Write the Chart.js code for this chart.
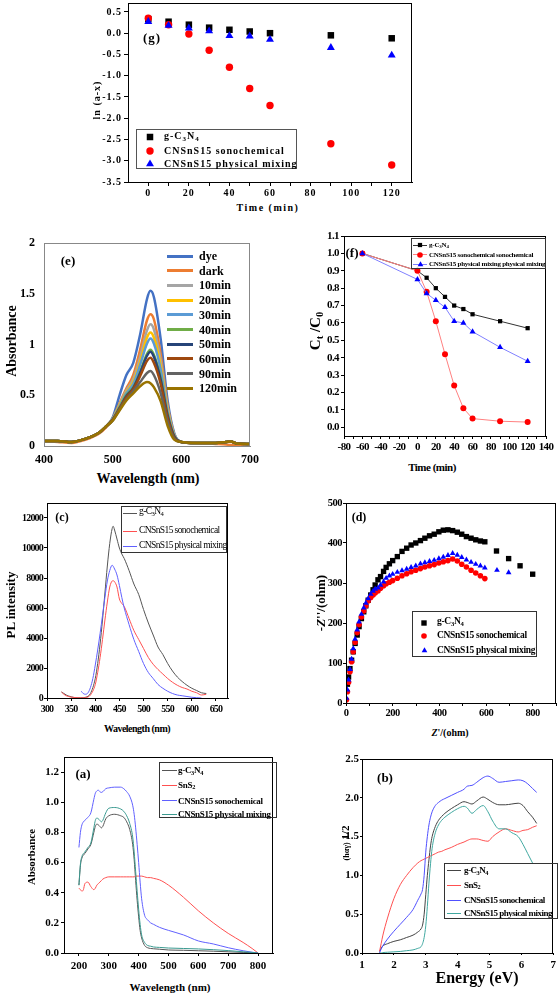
<!DOCTYPE html>
<html><head><meta charset="utf-8">
<script src="https://cdn.jsdelivr.net/npm/chart.js@4.4.1/dist/chart.umd.min.js"></script>
<style>
html,body{margin:0;padding:0;background:#fff;}
#page{position:relative;width:560px;height:996px;overflow:hidden;background:#fff;font-family:"Liberation Serif","Times New Roman",serif;color:#000;}
canvas{position:absolute;}
.t{position:absolute;white-space:nowrap;line-height:1;transform:translate(-50%,-50%);font-weight:bold;}
.r{transform:translate(-50%,-50%) rotate(-90deg);}
.lg{position:absolute;border:1px solid #333;box-sizing:border-box;}
.li{position:absolute;white-space:nowrap;line-height:1;transform:translateY(-50%);}
sub{font-size:70%;vertical-align:baseline;position:relative;top:0.3em;}
</style></head><body><div id="page"></div>
<script>
// ---------- (g) ln(a-x) vs time ----------
const G_TIME = [0,10,20,30,40,50,60,90,120];
const G_GCN  = [0.33,0.27,0.20,0.13,0.08,0.04,0.00,-0.05,-0.12];
const G_SONO = [0.35,0.20,-0.02,-0.40,-0.80,-1.30,-1.70,-2.60,-3.10];
const G_PHYS = [0.27,0.18,0.12,0.05,-0.06,-0.07,-0.15,-0.34,-0.52];
const G_XTICKS = [0,20,40,60,80,100,120];
const G_XMINOR = [10,30,50,70,90,110];
const G_YTICKS = [-3.5,-3.0,-2.5,-2.0,-1.5,-1.0,-0.5,0.0,0.5];

// ---------- (e) absorbance spectra ----------
const E_WL = [400,420,440,460,480,490,500,510,520,530,540,550,555,560,570,580,590,600,620,650,665,672,680,700];
const E_DYE  = [0.05,0.05,0.04,0.07,0.13,0.19,0.28,0.50,0.70,0.82,1.10,1.45,1.53,1.47,1.05,0.45,0.12,0.04,0.03,0.03,0.04,0.045,0.025,0.02];
const E_DARK = [0.05,0.04,0.03,0.06,0.12,0.18,0.27,0.42,0.57,0.70,0.95,1.24,1.30,1.25,0.90,0.40,0.11,0.04,0.03,0.02,0.015,0.01,0.01,0.02];
const E_10   = [0.05,0.05,0.04,0.07,0.13,0.19,0.27,0.41,0.55,0.66,0.88,1.14,1.20,1.15,0.84,0.38,0.11,0.04,0.03,0.03,0.04,0.045,0.025,0.02];
const E_20   = [0.05,0.05,0.04,0.07,0.13,0.19,0.27,0.40,0.53,0.63,0.83,1.07,1.12,1.07,0.79,0.36,0.10,0.04,0.03,0.03,0.04,0.045,0.025,0.02];
const E_30   = [0.05,0.05,0.04,0.07,0.13,0.19,0.27,0.39,0.52,0.61,0.80,1.01,1.06,1.01,0.75,0.34,0.10,0.04,0.03,0.03,0.04,0.045,0.025,0.02];
const E_40   = [0.05,0.05,0.04,0.07,0.13,0.19,0.26,0.38,0.50,0.58,0.73,0.91,0.95,0.90,0.67,0.31,0.09,0.04,0.03,0.03,0.04,0.045,0.025,0.02];
const E_50   = [0.05,0.05,0.04,0.07,0.13,0.19,0.26,0.37,0.49,0.57,0.72,0.89,0.93,0.88,0.65,0.30,0.09,0.04,0.03,0.03,0.04,0.045,0.025,0.02];
const E_60   = [0.05,0.05,0.04,0.07,0.13,0.19,0.26,0.37,0.48,0.56,0.69,0.84,0.87,0.82,0.61,0.28,0.08,0.04,0.03,0.03,0.04,0.045,0.025,0.02];
const E_90   = [0.05,0.05,0.04,0.07,0.13,0.19,0.25,0.36,0.46,0.54,0.63,0.72,0.74,0.70,0.52,0.24,0.07,0.04,0.03,0.03,0.04,0.045,0.025,0.02];
const E_120  = [0.05,0.05,0.04,0.07,0.13,0.19,0.25,0.35,0.45,0.52,0.59,0.63,0.62,0.58,0.44,0.20,0.06,0.04,0.03,0.03,0.04,0.045,0.025,0.02];
const E_NAMES = ['dye','dark','10min','20min','30min','40min','50min','60min','90min','120min'];
const E_XTICKS = [400,500,600,700];
const E_YTICKS = [0,0.5,1,1.5,2];

// ---------- (f) Ct/C0 vs time ----------
const F_TIME = [-60,0,10,20,30,40,50,60,90,120];
const F_GCN  = [1.00,0.90,0.86,0.80,0.75,0.70,0.68,0.65,0.61,0.57];
const F_SONO = [1.00,0.90,0.78,0.61,0.42,0.24,0.11,0.05,0.035,0.03];
const F_PHYS = [1.00,0.85,0.77,0.73,0.69,0.61,0.60,0.55,0.46,0.38];
const F_XTICKS = [-80,-60,-40,-20,0,20,40,60,80,100,120,140];
const F_XMINOR = [-70,-50,-30,-10,10,30,50,70,90,110,130];
const F_YTICKS = [0.0,0.1,0.2,0.3,0.4,0.5,0.6,0.7,0.8,0.9,1.0,1.1];

// ---------- (c) PL spectra ----------
const C_WL_A = [330,335,340,350,360,370,380,390,400,405,410,415,420,425,430,435,437,440,445,450,455,460,470,480,490,500,510,520,530,540,550,560,570,580,590,600,610,620,630];
const C_GCN  = [400,300,200,80,20,10,50,300,1300,2300,3600,5200,7000,8800,10300,11300,11450,11200,10600,10000,9600,9300,8500,7600,6900,5900,5000,4200,3400,2900,2300,1800,1400,1100,850,650,500,350,300];
const C_SONO = [400,250,150,60,20,10,30,200,900,1700,2700,3900,5200,6400,7400,7800,7820,7750,7400,6600,6300,6100,5300,4500,3900,3300,2700,2250,1900,1600,1300,1050,850,700,600,450,350,200,250];
const C_WL_B = [371,375,380,385,390,395,400,405,410,415,420,425,430,435,440,445,450,455,460,470,480,490,500,510,520,530,540,550,560,570,580,590,600,610,620];
const C_PHYS = [450,300,250,350,700,1300,2200,3200,4300,5500,6700,7800,8500,8850,8600,8200,7500,6700,6000,4900,3900,3100,2300,1700,1300,900,650,450,300,200,150,100,50,20,0];
const C_XTICKS = [300,350,400,450,500,550,600,650];
const C_YTICKS = [0,2000,4000,6000,8000,10000,12000];

// ---------- (d) Nyquist ----------
const D_GCN_X = [6,11,17,24,31,39,48,56,66,76,85,95,106,116,125,137,148,161,172,186,200,220,240,260,279,299,319,338,358,378,398,417,437,457,477,496,516,536,556,576,595,645,697,746,800];
const D_GCN_Y = [47,65,86,107,128,149,170,191,211,228,243,257,270,283,295,308,316,329,339,348,356,366,379,387,395,400,406,412,418,422,428,432,433,431,427,422,416,412,408,405,403,380,361,343,322];
const D_SONO_X = [2,6,11,17,24,31,39,48,56,66,76,85,95,106,116,125,137,148,161,172,186,200,220,240,260,279,299,319,338,358,378,398,417,437,457,477,496,516,536,556,576,595];
const D_SONO_Y = [8,28,52,78,103,128,152,176,196,215,230,243,255,264,270,275,280,287,293,298,302,306,312,318,323,328,332,336,340,343,346,350,353,356,360,355,347,340,332,325,318,311];
const D_PHYS_X = [2,6,11,17,24,31,39,48,56,66,76,85,95,106,116,125,137,148,161,172,186,200,220,240,260,279,299,319,338,358,378,398,417,437,457,477,496,516,536,556,576,595,647,697];
const D_PHYS_Y = [12,33,58,84,110,136,160,183,203,222,238,250,261,272,280,285,288,295,303,312,318,322,327,331,335,339,343,348,351,354,357,361,365,369,374,370,364,358,352,347,343,338,332,326];
const D_XTICKS = [0,200,400,600,800];
const D_XMINOR = [100,300,500,700,900];
const D_YTICKS = [0,100,200,300,400,500];

// ---------- (a) UV-vis absorbance ----------
const A_WL = [200,205,210,215,220,230,240,250,255,260,265,270,275,280,290,300,320,340,350,360,370,380,385,390,395,400,405,410,420,430,440,450,470,500,550,600,650,700,750,780,800];
const A_GCN  = [0.45,0.58,0.63,0.65,0.66,0.69,0.72,0.80,0.84,0.855,0.85,0.84,0.83,0.84,0.89,0.91,0.92,0.91,0.90,0.87,0.82,0.72,0.62,0.48,0.35,0.24,0.15,0.10,0.05,0.035,0.03,0.028,0.025,0.02,0.018,0.015,0.012,0.008,0.004,0.002,0.0];
const A_SNS2 = [0.43,0.42,0.41,0.42,0.46,0.47,0.44,0.42,0.43,0.45,0.46,0.47,0.48,0.49,0.50,0.505,0.505,0.505,0.505,0.505,0.505,0.505,0.505,0.51,0.51,0.51,0.51,0.51,0.505,0.50,0.50,0.495,0.485,0.45,0.37,0.28,0.20,0.13,0.07,0.03,0.0];
const A_SONO = [0.70,0.80,0.85,0.87,0.88,0.90,0.93,1.02,1.06,1.075,1.08,1.07,1.065,1.07,1.09,1.095,1.10,1.10,1.09,1.07,1.04,0.98,0.92,0.83,0.72,0.60,0.47,0.36,0.25,0.22,0.20,0.19,0.17,0.15,0.12,0.08,0.06,0.035,0.015,0.005,0.0];
const A_PHYS = [0.45,0.59,0.64,0.66,0.67,0.70,0.73,0.83,0.88,0.895,0.89,0.88,0.87,0.88,0.93,0.96,0.965,0.955,0.94,0.91,0.86,0.77,0.67,0.54,0.41,0.29,0.19,0.12,0.07,0.05,0.045,0.04,0.037,0.033,0.03,0.027,0.022,0.016,0.008,0.004,0.0];
const A_XTICKS = [200,300,400,500,600,700,800];
const A_YTICKS = [0.0,0.2,0.4,0.6,0.8,1.0,1.2];

// ---------- (b) Tauc plot ----------
const B_E = [1.55,1.6,1.65,1.8,2.0,2.2,2.4,2.6,2.75,2.85,2.9,2.95,3.0,3.05,3.1,3.15,3.2,3.3,3.4,3.5,3.6,3.8,4.0,4.2,4.3,4.45,4.6,4.8,4.95,5.1,5.3,5.5,5.7,5.9,6.05,6.2,6.35,6.48];
const B_GCN  = [0.02,0.06,0.09,0.12,0.15,0.17,0.2,0.23,0.27,0.31,0.36,0.5,0.75,1.0,1.2,1.38,1.5,1.63,1.71,1.76,1.8,1.86,1.91,1.95,1.94,1.92,1.96,2.01,1.98,1.94,1.91,1.91,1.92,1.93,1.9,1.82,1.75,1.67];
const B_SNS2 = [0.02,0.12,0.22,0.45,0.7,0.88,1.0,1.1,1.16,1.19,1.2,1.21,1.22,1.23,1.24,1.25,1.26,1.28,1.3,1.31,1.33,1.36,1.4,1.43,1.45,1.47,1.47,1.45,1.44,1.5,1.56,1.6,1.58,1.56,1.58,1.59,1.62,1.64];
const B_SONO = [0.0,0.05,0.09,0.18,0.28,0.37,0.46,0.56,0.68,0.76,0.82,1.0,1.3,1.5,1.65,1.75,1.82,1.9,1.94,1.97,1.99,2.03,2.07,2.11,2.15,2.16,2.2,2.26,2.28,2.25,2.2,2.21,2.22,2.23,2.22,2.18,2.12,2.07];
const B_PHYS = [0.0,0.0,0.005,0.01,0.015,0.02,0.03,0.04,0.06,0.08,0.12,0.2,0.35,0.6,0.9,1.15,1.35,1.55,1.65,1.71,1.75,1.81,1.86,1.89,1.87,1.8,1.85,1.9,1.82,1.7,1.6,1.6,1.55,1.5,1.4,1.28,1.16,null];
const B_XTICKS = [1,2,3,4,5,6,7];
const B_YTICKS = [0.0,0.5,1.0,1.5,2.0,2.5];

// ================= rendering =================
const FONT = '"Liberation Serif","Times New Roman",serif';
Chart.defaults.font.family = FONT;
Chart.defaults.color = '#000';
const page = document.getElementById('page');

Chart.register({
  id:'frame',
  beforeDraw(chart, args, o){ chart.ctx.letterSpacing = o.ls || '0px'; },
  afterDatasetsDraw(chart, args, o){
    const a = chart.chartArea, c = chart.ctx;
    c.save(); c.strokeStyle = o.color || '#000'; c.lineWidth = 1;
    c.strokeRect(Math.round(a.left)+0.5, Math.round(a.top)+0.5, Math.round(a.right-a.left)-1, Math.round(a.bottom-a.top));
    c.restore();
  }
});

function pts(xs, ys){ return xs.map((x,i)=>({x:x, y:ys[i]})).filter(p=>p.y!==null && p.y!==undefined); }

// major ticks get labels; optional minor ticks get an empty label
function axis(pos, min, max, ticks, fmt, size, o, minor){
  const all = ticks.concat(minor||[]).sort((a,b)=>a-b);
  return {
    type:'linear', position:pos, min:min, max:max,
    afterBuildTicks: s => { s.ticks = all.map(v=>({value:v})); },
    afterFit: s => { if(pos==='left') s.width = size; else s.height = size; },
    ticks:{ autoSkip:false, maxRotation:0, minRotation:0, padding:o.pad, color:'#000',
            font:{size:o.fs, weight:'bold', family:FONT},
            callback: v => ticks.indexOf(v) >= 0 ? fmt(v) : '' },
    grid:{ display:true, drawOnChartArea:false, drawTicks:o.tl>0, tickLength:o.tl||0, color:o.tc||'#000', tickWidth:1 },
    border:{ display:true, color:o.bc||'#000', width:1 },
    title:{ display:false }
  };
}

function makeChart(fr, datasets, xa, ya, frameOpts){
  const tp = 10;
  const x = fr.L - fr.yw, y = fr.T - tp;
  const w = (fr.R + fr.rp) - x, h = (fr.B + fr.xh) - y;
  const cv = document.createElement('canvas');
  cv.width = w; cv.height = h;
  cv.style.left = x+'px'; cv.style.top = y+'px'; cv.style.width = w+'px'; cv.style.height = h+'px';
  page.appendChild(cv);
  return new Chart(cv, {
    type:'line',
    data:{ datasets: datasets },
    options:{
      responsive:false, maintainAspectRatio:false, animation:false, devicePixelRatio:1, events:[],
      layout:{ padding:{ left:0, top:tp, right:fr.rp, bottom:0 } },
      scales:{ x: xa, y: ya },
      plugins:{ legend:{display:false}, tooltip:{enabled:false}, frame: frameOpts || {} }
    }
  });
}

function lineDS(xs, ys, color, w, order){
  return { data:pts(xs,ys), borderColor:color, backgroundColor:color, borderWidth:w, pointRadius:0,
           fill:false, cubicInterpolationMode:'monotone', order:order||0 };
}
function markDS(xs, ys, style, color, r, order, lineColor){
  return { data:pts(xs,ys), showLine:!!lineColor, borderColor:lineColor||color, borderWidth:1,
           pointStyle:style, pointRadius:r, pointBackgroundColor:color, pointBorderColor:color, pointBorderWidth:0,
           fill:false, tension:0, order:order };
}

const f1 = v => v.toFixed(1);
const f0 = v => String(v);

function T(html, x, y, css, rot){
  const d = document.createElement('div');
  d.className = 't' + (rot ? ' r' : '');
  d.innerHTML = html;
  d.style.cssText = 'left:'+x+'px;top:'+y+'px;' + (css||'');
  page.appendChild(d);
}
function box(x, y, w, h, css){
  const d = document.createElement('div'); d.className='lg';
  d.style.cssText = 'left:'+x+'px;top:'+y+'px;width:'+w+'px;height:'+h+'px;' + (css||'');
  page.appendChild(d);
}
function LI(html, x, y, css){
  const d = document.createElement('div'); d.className='li';
  d.innerHTML = html;
  d.style.cssText = 'left:'+x+'px;top:'+y+'px;' + (css||'');
  page.appendChild(d);
}
function swLine(x1, x2, y, color, w){
  const d = document.createElement('div');
  d.style.cssText = 'position:absolute;left:'+x1+'px;top:'+(y-w/2)+'px;width:'+(x2-x1)+'px;height:'+w+'px;background:'+color+';';
  page.appendChild(d);
}
function swMark(style, x, y, color, r){
  const ns='http://www.w3.org/2000/svg';
  const s=document.createElementNS(ns,'svg');
  const S=Math.ceil(r*2+2);
  s.setAttribute('width',S); s.setAttribute('height',S);
  s.style.cssText='position:absolute;left:'+(x-S/2)+'px;top:'+(y-S/2)+'px;overflow:visible;';
  let el;
  const c=S/2;
  if(style==='rect'){ const a=r*Math.SQRT1_2; el=document.createElementNS(ns,'rect'); el.setAttribute('x',c-a); el.setAttribute('y',c-a); el.setAttribute('width',2*a); el.setAttribute('height',2*a); }
  else if(style==='circle'){ el=document.createElementNS(ns,'circle'); el.setAttribute('cx',c); el.setAttribute('cy',c); el.setAttribute('r',r); }
  else { el=document.createElementNS(ns,'polygon'); const b=r*Math.sqrt(3)/2;
    el.setAttribute('points',(c)+','+(c-r)+' '+(c-b)+','+(c+r/2)+' '+(c+b)+','+(c+r/2)); }
  el.setAttribute('fill',color);
  s.appendChild(el); page.appendChild(s);
}

// ----- (g) -----
makeChart({L:128,T:3,R:412,B:182,yw:40,rp:20,xh:20},
  [ markDS(G_TIME,G_GCN,'rect','#000',4.6,2),
    markDS(G_TIME,G_SONO,'circle','#ff0000',3.7,1),
    markDS(G_TIME,G_PHYS,'triangle','#0000ff',4.6,0) ],
  axis('bottom',-10,130,G_XTICKS,f0,20,{fs:10,tl:4,pad:1},G_XMINOR),
  axis('left',-3.5,0.71,G_YTICKS,f1,40,{fs:10,tl:4,pad:2}),
  {ls:'1px'});
T('Time (min)',268,208,'font-size:10px;letter-spacing:1.5px;');
T('ln (a-x)',97,100,'font-size:10px;letter-spacing:1px;',true);
T('(g)',152,37,'font-size:13px;letter-spacing:1px;');
box(136,129,161,40,'border-color:#555;');
swMark('rect',150,137,'#000',4.6); LI('g-C<sub>3</sub>N<sub>4</sub>',164,136,'font-size:10px;font-weight:bold;letter-spacing:1px;');
swMark('circle',150,151,'#ff0000',3.7); LI('CNSnS15 sonochemical',164,151,'font-size:10px;font-weight:bold;letter-spacing:1px;');
swMark('triangle',150,163.5,'#0000ff',4.6); LI('CNSnS15 physical mixing',164,163.5,'font-size:10px;font-weight:bold;letter-spacing:1px;');

// ----- (e) -----
const E_SERIES = [E_DYE,E_DARK,E_10,E_20,E_30,E_40,E_50,E_60,E_90,E_120];
const E_COLORS = ['#4472C4','#ED7D31','#A5A5A5','#FFC000','#5B9BD5','#70AD47','#264478','#9E480E','#636363','#997300'];
makeChart({L:44,T:237,R:251,B:446,yw:40,rp:15,xh:22},
  E_SERIES.map((s,i)=>lineDS(E_WL,s,E_COLORS[i],2.5,9-i)),
  axis('bottom',400,700,E_XTICKS,f0,22,{fs:12,tl:0,pad:7,bc:'#888'}),
  axis('left',0,2,E_YTICKS,f0,40,{fs:12,tl:0,pad:9,bc:'#888'}),
  {color:'#888'});
T('Wavelength (nm)',148,479,'font-size:14px;');
T('Absorbance',12,341,'font-size:14px;',true);
T('(e)',68,260,'font-size:13px;');
E_NAMES.forEach((n,i)=>{
  const yy = 256 + i*14.7;
  swLine(167,193,yy,E_COLORS[i],3);
  LI(n,199,yy,'font-size:12px;font-weight:bold;');
});

// ----- (f) -----
makeChart({L:344,T:236,R:546,B:436,yw:30,rp:12,xh:18},
  [ markDS(F_TIME,F_GCN,'rect','#000',3,2,'#333'),
    markDS(F_TIME,F_SONO,'circle','#ff0000',3,1,'#ff8080'),
    markDS(F_TIME,F_PHYS,'triangle','#0000ff',3.5,0,'#8080ff') ],
  axis('bottom',-80,140,F_XTICKS,f0,18,{fs:11,tl:3,pad:2},F_XMINOR),
  axis('left',-0.05,1.1,F_YTICKS,f1,30,{fs:11,tl:3,pad:2}),
  {ls:'-0.6px'});
T('Time (min)',432,467,'font-size:11px;letter-spacing:-0.5px;');
T('C<sub>t</sub> /C<sub>0</sub>',315,331,'font-size:15px;',true);
T('(f)',352,252,'font-size:13px;');
box(411,238,135,31);
swLine(413,427,245,'#333',1); swMark('rect',420,245,'#000',3);
LI('g-C<sub>3</sub>N<sub>4</sub>',429,244.5,'font-size:7px;font-weight:bold;letter-spacing:-0.2px;');
swLine(413,427,254.7,'#ff8080',1); swMark('circle',420,254.7,'#ff0000',2.8);
LI('CNSnS15 sonochemical sonochemical',429,254.7,'font-size:7px;font-weight:bold;letter-spacing:-0.25px;');
swLine(413,427,264.3,'#8080ff',1); swMark('triangle',420,264.3,'#0000ff',3.3);
LI('CNSnS15 physical mixing physical mixing',429,264.3,'font-size:7px;font-weight:bold;letter-spacing:-0.25px;');

// ----- (c) -----
makeChart({L:47,T:503,R:228,B:698,yw:40,rp:8,xh:18},
  [ lineDS(C_WL_A,C_GCN,'#555555',1,2),
    lineDS(C_WL_A,C_SONO,'#ff5050',1,1),
    lineDS(C_WL_B,C_PHYS,'#6060ff',1,0) ],
  axis('bottom',300,675,C_XTICKS,f0,18,{fs:10,tl:3,pad:2}),
  axis('left',0,13000,C_YTICKS,f0,40,{fs:10,tl:3,pad:1}),
  {ls:'-0.8px'});
T('Wavelength (nm)',137,729,'font-size:10px;letter-spacing:-0.5px;');
T('PL intensity',10,605,'font-size:13px;',true);
T('(c)',62,517,'font-size:12px;');
box(121,506,106,47);
swLine(123,137,513,'#555',1); LI('g-C<sub>3</sub>N<sub>4</sub>',139,512,'font-size:9.5px;letter-spacing:-0.6px;');
swLine(123,137,531,'#ff5050',1); LI('CNSnS15 sonochemical',139,531,'font-size:9.5px;letter-spacing:-0.6px;');
swLine(123,137,546,'#6060ff',1); LI('CNSnS15 physical mixing',139,546,'font-size:9.5px;letter-spacing:-0.6px;');

// ----- (d) -----
makeChart({L:346,T:503,R:557,B:703,yw:30,rp:3,xh:18},
  [ markDS(D_GCN_X,D_GCN_Y,'rect','#000',3.8,2),
    markDS(D_SONO_X,D_SONO_Y,'circle','#ff0000',2.8,1),
    markDS(D_PHYS_X,D_PHYS_Y,'triangle','#0000ff',3.3,0) ],
  axis('bottom',0,900,D_XTICKS,f0,18,{fs:10.5,tl:3,pad:1},D_XMINOR),
  axis('left',0,500,D_YTICKS,f0,30,{fs:10.5,tl:3,pad:1}),
  {ls:'-0.5px'});
T('<i>Z</i>\'/(ohm)',450,733,'font-size:10px;');
T('-<i>Z</i>\'\'/(ohm)',320,603,'font-size:13px;',true);
T('(d)',359,517,'font-size:12px;');
box(412,611,125,46);
swMark('rect',424,622.7,'#000',3.8); LI('g-C<sub>3</sub>N<sub>4</sub>',437,622,'font-size:9.5px;font-weight:bold;letter-spacing:-0.3px;');
swMark('circle',424,636,'#ff0000',2.8); LI('CNSnS15 sonochemical',437,636,'font-size:9.5px;font-weight:bold;letter-spacing:-0.3px;');
swMark('triangle',424,650.7,'#0000ff',3.3); LI('CNSnS15 physical mixing',437,650.7,'font-size:9.5px;font-weight:bold;letter-spacing:-0.3px;');

// ----- (a) -----
makeChart({L:64,T:757,R:273,B:953,yw:35,rp:8,xh:20},
  [ lineDS(A_WL,A_GCN,'#555555',1,3),
    lineDS(A_WL,A_SNS2,'#ff5050',1,2),
    lineDS(A_WL,A_SONO,'#6060ff',1,1),
    lineDS(A_WL,A_PHYS,'#3a9a90',1,0) ],
  axis('bottom',150,850,A_XTICKS,f0,20,{fs:11,tl:3,pad:4}),
  axis('left',0,1.3,A_YTICKS,f1,35,{fs:11,tl:3,pad:2}),
  {});
T('Wavelength (nm)',170,987,'font-size:11px;');
T('Absorbance',31,857,'font-size:11px;',true);
T('(a)',83,773,'font-size:13px;');
box(159,762,118,56);
swLine(162,177,770.7,'#555',1); LI('g-C<sub>3</sub>N<sub>4</sub>',178,770,'font-size:9px;font-weight:bold;letter-spacing:-0.3px;');
swLine(162,177,785,'#ff5050',1); LI('SnS<sub>2</sub>',178,784.5,'font-size:9px;font-weight:bold;letter-spacing:-0.3px;');
swLine(162,177,800.7,'#6060ff',1); LI('CNSnS15 sonochemical',178,800.7,'font-size:9px;font-weight:bold;letter-spacing:-0.3px;');
swLine(162,177,814,'#3a9a90',1); LI('CNSnS15 physical mixing',178,814,'font-size:9px;font-weight:bold;letter-spacing:-0.3px;');

// ----- (b) -----
makeChart({L:362,T:759,R:555,B:953,yw:35,rp:5,xh:20},
  [ lineDS(B_E,B_GCN,'#444444',1,3),
    lineDS(B_E,B_SNS2,'#ff5050',1,2),
    lineDS(B_E,B_SONO,'#5050ff',1,1),
    lineDS(B_E,B_PHYS,'#40a8a0',1,0) ],
  axis('bottom',1,7,B_XTICKS,f0,20,{fs:11,tl:2,pad:4}),
  axis('left',0,2.5,B_YTICKS,f1,35,{fs:11,tl:2,pad:1}),
  {});
T('Energy (eV)',477,978,'font-size:16px;');
T('<span style="font-size:8px">(hαγ)</span> 1/2',345,843,'font-size:11px;',true);
T('(b)',385,777,'font-size:13px;');
box(444,863,114,56);
swLine(447,461,870.7,'#444',1); LI('g-C<sub>3</sub>N<sub>4</sub>',464,870,'font-size:9px;font-weight:bold;letter-spacing:-0.5px;');
swLine(447,461,885,'#ff5050',1); LI('SnS<sub>2</sub>',464,884.5,'font-size:9px;font-weight:bold;letter-spacing:-0.5px;');
swLine(447,461,900,'#5050ff',1); LI('CNSnS15 sonochemical',464,900,'font-size:9px;font-weight:bold;letter-spacing:-0.5px;');
swLine(447,461,913.3,'#40a8a0',1); LI('CNSnS15 physical mixing',464,913.3,'font-size:9px;font-weight:bold;letter-spacing:-0.5px;');
</script></body></html>
